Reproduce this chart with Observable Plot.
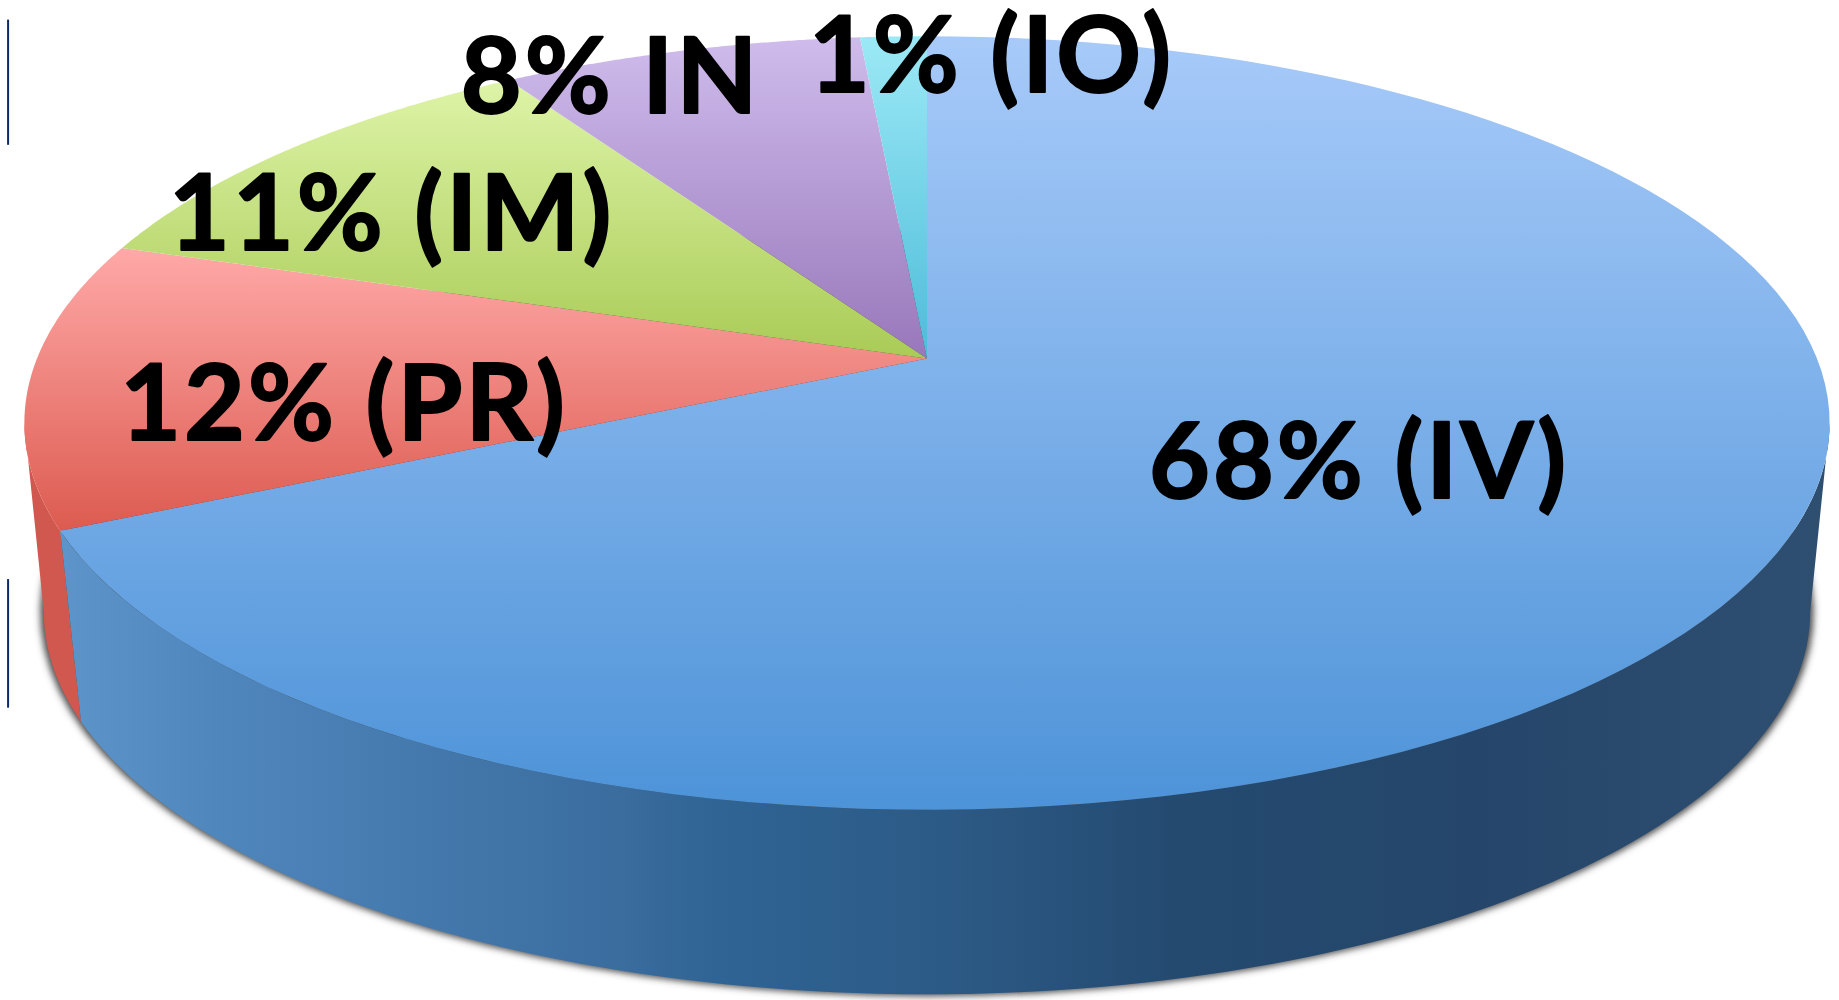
<!DOCTYPE html>
<html>
<head>
<meta charset="utf-8">
<script src="https://cdn.jsdelivr.net/npm/d3@7"></script>
<script src="https://cdn.jsdelivr.net/npm/@observablehq/plot@0.6"></script>
<style>
html,body{margin:0;padding:0;background:#fff;overflow:hidden}
svg{display:block;filter:blur(0.7px)}
svg text{letter-spacing:3px}
</style>
</head>
<body>
<div id="chart"></div>
<script>
// Data, in drawing order clockwise from 12 o'clock.
// Wedge sizes; the printed labels are these values rounded.
const routes = ["IV", "PR", "IM", "IN", "IO"];
const shares = [68, 12, 11, 7.6, 1.4];
const labels = ["68% (IV)", "12% (PR)", "11% (IM)", "8% IN", "1% (IO)"];

// Text anchors in plot units
const labelX = [0.2495, -0.9065, -0.8517, -0.5238, -0.1327];
const labelY = [-0.3707, -0.217, 0.2874, 0.6516, 0.710];

// Stray navy rules at the reference's left edge
const edgeRules = [{x: -1.0325, y1: 0.9, y2: 0.567}, {x: -1.0325, y1: -0.588, y2: -0.93}];

// Colours: [top of gradient, bottom of gradient]
const faceColors = [["#a7caf9", "#4d93d8"], ["#ffa9a8", "#dc5b50"], ["#def4a8", "#a9cb56"], ["#cfbcec", "#9877ba"], ["#9ce9f6", "#4dbcd9"]];
const wallStops = [[0, "#5d94ca"], [0.09, "#4f86bc"], [0.32, "#3a6c9e"], [0.37, "#2f6494"], [0.5, "#2c5a86"], [0.63, "#244a70"], [0.8, "#25466a"], [1, "#2e4f70"]];

// Perspective of the disc: top face and lower rim
const k = 1 / 6, cx = 926.5, cy = 358, A = 890, B = 376;
const kLow = 0.22, squeeze = 0.968, drop = 0.45, seamLean = 3.3 * Math.PI / 180;

const project = (t, low = false, grow = 1) => {
  const c = low ? kLow : k;
  const w = 1 + c * Math.cos(t);
  const u = Math.sin(t) / w, v = Math.cos(t) / w;
  return low ? {u: u * squeeze * grow, v: v * squeeze * grow - drop} : {u, v};
};
const angle = (f) => 2 * Math.PI * f;
const arc = (a, b, low = false, grow = 1) => d3.range(0, 121).map((i) => project(a + (b - a) * i / 120, low, grow));

const total = d3.sum(shares);
const ends = d3.cumsum(shares).map((c) => c / total);
const starts = [0, ...ends.slice(0, -1)];

const faces = routes.map((r, i) => [{u: 0, v: 0}, ...arc(angle(starts[i]), angle(ends[i])), {u: 0, v: 0}]);

const topRight = Math.acos(-k), topLeft = 2 * Math.PI - topRight;
const rimRight = Math.acos(-kLow), rimLeft = 2 * Math.PI - rimRight;
const seam = angle(ends[0]);
const blueWall = [...arc(topRight, seam), ...arc(rimRight, seam - seamLean, true).reverse()];
const redWall = [...arc(seam, topLeft), ...arc(seam - seamLean, rimLeft, true).reverse()];
const shadow = arc(0, 2 * Math.PI, true, 1.004);

const stops = (id, list, attrs) => {
  const g = d3.create("svg:linearGradient").attr("id", id);
  Object.entries(attrs).forEach(([a, b]) => g.attr(a, b));
  list.forEach(([o, c]) => g.append("stop").attr("offset", o).attr("stop-color", c));
  return g.node();
};
const defs = () => {
  const d = d3.create("svg:defs");
  routes.forEach((r, i) => d.append(() => stops("face" + r, [[0, faceColors[i][0]], [1, faceColors[i][1]]], {x1: 0, y1: 0, x2: 0, y2: 1})));
  d.append(() => stops("wall", wallStops, {x1: 0, y1: 0, x2: 1, y2: 0}));
  d.append("filter").attr("id", "soft").attr("x", "-5%").attr("y", "-5%").attr("width", "110%").attr("height", "110%")
    .append("feGaussianBlur").attr("stdDeviation", 3.5);
  return d.node();
};
const softened = (index, scales, values, dims, ctx, next) => {
  const g = next(index, scales, values, dims, ctx);
  g.setAttribute("filter", "url(#soft)");
  return g;
};
const poly = (pts, fill, extra = {}) => Plot.line(pts, {x: "u", y: "v", fill, stroke: "none", ...extra});

const chart = Plot.plot({
  width: 1839, height: 1000,
  margin: 0,
  x: {type: "linear", axis: null, domain: [-1, 1], range: [cx - A, cx + A]},
  y: {type: "linear", axis: null, domain: [-1, 1], range: [cy + B, cy - B]},
  style: {background: "#fff"},
  marks: [
    defs,
    poly(shadow, "#4a4a4a", {render: softened}),
    poly(redWall, "#d0584e"),
    poly(blueWall, "url(#wall)"),
    ...routes.map((r, i) => poly(faces[i], `url(#face${r})`)),
    Plot.ruleX(edgeRules, {x: "x", y1: "y1", y2: "y2", stroke: "#0b2a6b", strokeWidth: 2}),
    Plot.text(labels, {
      x: (d, i) => labelX[i], y: (d, i) => labelY[i], text: (d) => d,
      textAnchor: "start", lineAnchor: "bottom",
      fontFamily: "Lato", fontWeight: 700, fontSize: 105, fill: "#000", stroke: "#000", strokeWidth: 2
    })
  ]
});
document.getElementById("chart").append(chart);
</script>
</body>
</html>
